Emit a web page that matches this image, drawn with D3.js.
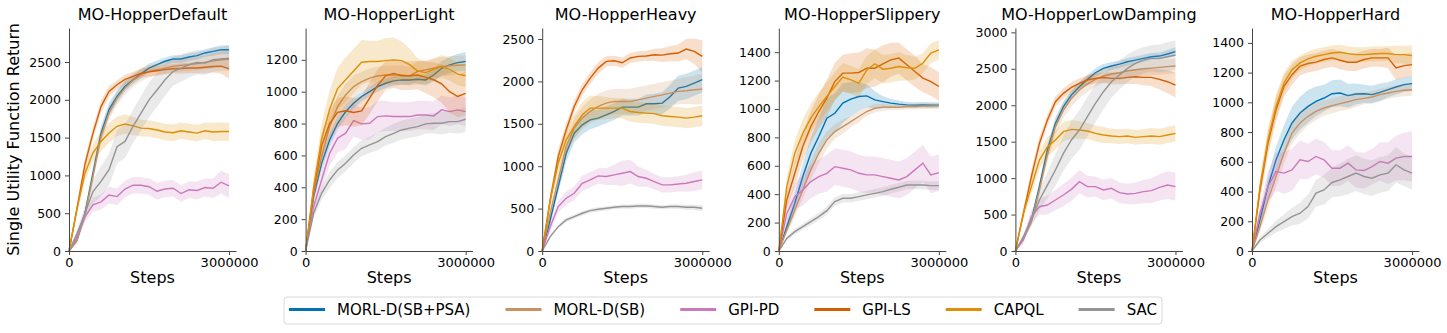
<!DOCTYPE html>
<html>
<head>
<meta charset="utf-8">
<script src="https://d3js.org/d3.v7.min.js"></script>
<style>
    body { margin: 0; background: white; }
    svg text { font-family: "DejaVu Sans", sans-serif; fill: black; }
    .axis path, .axis line { stroke: #444; stroke-width: 1; }
    .axis text { fill: black; }
</style>
</head>
<body>
<svg id="chart" width="1447" height="333"></svg>

<script>
// ---- data ----
const steps = [0,150000,300000,450000,600000,750000,900000,1050000,1200000,1350000,1500000,
               1650000,1800000,1950000,2100000,2250000,2400000,2550000,2700000,2850000,3000000];

const envs = ["MO-HopperDefault","MO-HopperLight","MO-HopperHeavy","MO-HopperSlippery","MO-HopperLowDamping","MO-HopperHard"];
const algos = ["MORL-D(SB+PSA)","MORL-D(SB)","GPI-PD","GPI-LS","CAPQL","SAC"];
const colors = ["#0173b2","#ca9161","#cc78bc","#d55e00","#de8f05","#949494"];

const ticksDefault = [0,500,1000,1500,2000,2500];
const ticksLight = [0,200,400,600,800,1000,1200];
const ticksHeavy = [0,500,1000,1500,2000,2500];
const ticksSlippery = [0,200,400,600,800,1000,1200,1400];
const ticksLowDamping = [0,500,1000,1500,2000,2500,3000];
const ticksHard = [0,200,400,600,800,1000,1200,1400];
const yTops = [2950, 1400, 2630, 1570, 3060, 1500];
const xTicks = [0, 3000000];

// mean curves, one row per algorithm (same order as algos)
const defaultMeans = [
  [0,145,500,1030,1560,1870,2045,2180,2266,2345,2420,2465,2510,2540,2540,2566,2584,2620,2640,2663,2663],
  [0,140,480,990,1510,1825,2023,2155,2260,2332,2376,2400,2420,2443,2455,2465,2480,2495,2515,2530,2540],
  [0,190,455,610,650,740,720,820,870,870,850,790,820,830,760,810,800,840,830,910,860],
  [0,560,1150,1560,1910,2110,2200,2270,2310,2350,2370,2385,2400,2410,2415,2420,2420,2430,2440,2445,2410],
  [0,560,1030,1300,1450,1560,1650,1680,1655,1625,1620,1600,1575,1565,1590,1575,1560,1590,1575,1580,1580],
  [0,230,500,786,920,1075,1380,1450,1650,1825,2000,2130,2265,2375,2420,2465,2495,2487,2530,2540,2550]
];
const defaultSpread = [
  [0,40,60,80,90,90,80,70,60,60,60,55,50,50,50,50,50,50,55,60,60],
  [0,40,60,80,90,90,90,90,90,85,80,80,80,80,80,85,90,90,100,110,120],
  [0,40,70,90,100,110,110,110,110,110,110,110,110,110,110,110,120,120,130,150,160],
  [0,60,80,80,80,70,60,60,60,60,60,60,60,60,70,70,70,80,80,100,130],
  [0,70,100,120,130,130,130,130,120,110,110,110,110,110,110,110,110,110,120,120,120],
  [0,50,100,160,200,210,220,220,220,230,230,220,210,190,180,170,160,160,160,160,170]
];

const lightMeans = [
  [0,341,550,697,802,875,928,970,1000,1032,1053,1068,1074,1074,1078,1074,1105,1147,1168,1183,1190],
  [0,360,592,781,906,980,1032,1063,1085,1099,1105,1105,1105,1099,1127,1137,1147,1158,1162,1166,1168],
  [0,278,446,613,708,740,819,798,802,844,848,844,844,844,854,854,848,886,875,886,875],
  [0,380,660,800,870,880,870,880,960,1040,1100,1115,1100,1100,1105,1090,1075,1050,1000,970,990],
  [0,400,700,890,1020,1075,1130,1185,1190,1190,1195,1200,1195,1170,1130,1120,1140,1160,1140,1110,1100],
  [0,237,362,446,509,551,603,645,666,687,718,739,760,771,781,798,802,802,812,812,827]
];
const lightSpread = [
  [0,30,40,40,40,40,35,30,30,30,30,30,30,30,30,35,40,45,50,55,60],
  [0,40,60,70,70,70,70,60,60,60,60,60,60,60,60,60,60,60,60,60,60],
  [0,50,70,80,90,100,100,100,100,100,95,90,90,90,90,90,90,90,90,90,90],
  [0,50,80,90,90,90,90,90,100,100,90,90,90,90,90,100,110,120,130,130,140],
  [0,60,100,120,130,140,140,140,130,130,140,140,120,100,80,70,70,70,70,70,70],
  [0,30,40,50,50,50,50,50,50,55,55,60,60,60,60,60,65,70,70,75,80]
];

const heavyMeans = [
  [0,366,760,1153,1390,1488,1547,1567,1606,1646,1697,1697,1697,1736,1736,1744,1823,1921,1941,1980,2020],
  [0,445,839,1232,1449,1567,1646,1705,1744,1764,1764,1764,1783,1803,1823,1842,1862,1882,1890,1901,1909],
  [0,287,524,622,681,799,839,886,878,898,917,937,878,858,819,780,780,791,799,819,839],
  [0,602,1114,1429,1705,1901,2039,2157,2236,2244,2220,2276,2295,2300,2315,2310,2327,2335,2382,2354,2295],
  [0,600,1035,1311,1468,1606,1685,1685,1685,1685,1685,1645,1634,1626,1620,1595,1587,1579,1567,1579,1595],
  [0,169,287,366,405,445,476,492,504,516,524,524,531,531,524,516,524,524,516,516,504]
];
const heavySpread = [
  [0,50,80,100,110,110,110,100,100,100,100,100,100,110,120,130,140,150,150,150,150],
  [0,60,90,110,120,130,140,150,150,150,150,150,150,150,150,150,150,150,160,170,180],
  [0,50,70,80,80,90,90,90,100,120,150,140,120,100,90,90,90,90,100,110,110],
  [0,60,80,80,70,70,70,70,60,60,60,60,60,60,70,80,90,100,120,150,190],
  [0,80,110,130,140,150,150,140,130,120,120,120,120,120,120,120,120,120,120,120,120],
  [0,15,20,25,25,25,25,25,25,25,25,25,25,25,25,25,25,25,30,30,35]
];

const slipperyMeans = [
  [0,171,336,524,688,806,935,970,1041,1069,1088,1092,1064,1052,1041,1034,1029,1027,1029,1027,1027],
  [0,148,289,430,571,688,782,841,876,911,947,982,1005,1012,1012,1012,1017,1017,1020,1020,1022],
  [0,265,383,430,489,524,547,594,583,571,547,536,536,524,512,500,524,571,618,536,552],
  [0,359,547,735,876,982,1076,1193,1252,1252,1257,1287,1287,1318,1346,1358,1311,1264,1217,1193,1158],
  [0,453,688,829,935,1017,1088,1158,1224,1205,1182,1275,1318,1280,1287,1299,1290,1287,1322,1393,1416],
  [0,89,136,171,207,242,284,348,371,371,383,395,406,418,435,449,465,465,465,460,460]
];
const slipperySpread = [
  [0,40,70,90,110,130,140,140,140,120,100,80,60,40,30,25,20,20,20,20,20],
  [0,30,50,60,70,70,60,50,50,40,40,30,30,25,20,20,20,20,20,20,20],
  [0,60,90,110,120,120,130,130,130,130,130,130,130,130,130,130,130,130,130,130,130],
  [0,60,90,100,110,120,130,130,130,140,140,140,130,130,120,110,110,110,100,100,100],
  [0,70,90,100,100,100,100,100,100,100,100,100,100,100,100,100,90,80,70,70,70],
  [0,15,20,20,25,25,30,30,30,30,30,30,30,30,30,30,30,30,30,30,30]
];

const lowDampingMeans = [
  [0,174,425,883,1386,1751,1980,2140,2254,2355,2446,2506,2538,2565,2597,2620,2643,2666,2675,2703,2735],
  [0,174,402,837,1317,1706,1934,2094,2209,2291,2355,2401,2428,2446,2474,2487,2501,2510,2520,2530,2538],
  [0,151,471,608,631,700,768,846,951,883,883,837,860,800,782,791,814,828,873,905,883],
  [0,517,1020,1477,1797,2049,2163,2245,2300,2346,2369,2380,2369,2369,2383,2392,2383,2383,2355,2323,2277],
  [0,517,883,1248,1431,1523,1637,1669,1660,1646,1614,1591,1578,1569,1578,1559,1569,1578,1569,1591,1614],
  [0,197,425,700,905,1111,1340,1523,1660,1843,2026,2186,2323,2415,2506,2575,2620,2643,2643,2666,2689]
];
const lowDampingSpread = [
  [0,30,50,70,80,80,70,60,60,60,60,60,55,50,50,50,50,50,50,55,60],
  [0,30,50,80,100,110,110,110,110,110,100,100,100,100,100,100,100,100,100,100,100],
  [0,50,90,110,130,140,150,160,160,150,140,140,140,140,140,150,160,170,180,190,190],
  [0,70,90,90,80,70,70,70,70,70,70,70,80,80,90,100,110,120,140,160,170],
  [0,70,100,120,130,130,130,130,120,110,110,110,100,100,100,100,100,110,110,110,110],
  [0,40,90,140,180,220,240,260,270,270,260,240,220,200,190,180,180,180,190,200,200]
];

const hardMeans = [
  [0,209,434,613,748,861,928,973,1007,1029,1058,1063,1045,1056,1058,1052,1067,1085,1103,1119,1126],
  [0,164,344,501,658,793,861,906,939,962,977,991,1004,1018,1027,1036,1052,1063,1074,1081,1085],
  [0,254,434,535,524,546,613,602,636,613,557,557,591,546,541,568,602,591,625,636,636],
  [0,411,726,950,1108,1186,1243,1261,1270,1288,1299,1283,1270,1270,1288,1299,1299,1299,1231,1247,1254],
  [0,434,748,973,1130,1220,1265,1292,1310,1321,1332,1337,1328,1321,1321,1325,1328,1328,1321,1321,1314],
  [0,74,119,164,198,231,254,299,389,411,461,479,501,524,501,490,512,524,580,546,524]
];
const hardSpread = [
  [0,40,70,90,100,110,110,110,100,90,90,90,80,70,60,60,60,50,50,50,50],
  [0,40,60,70,70,70,70,60,60,50,50,50,50,50,40,40,40,40,40,40,40],
  [0,60,100,130,140,140,130,120,120,120,120,120,120,120,120,120,130,140,150,160,170],
  [0,60,80,80,70,70,60,60,60,60,60,60,60,60,60,60,60,70,80,80,80],
  [0,60,80,80,70,60,50,50,50,50,50,50,50,50,50,50,50,50,60,60,70],
  [0,20,30,40,50,60,70,80,90,100,100,110,120,120,120,120,120,120,120,110,110]
];

const allMeans = [defaultMeans, lightMeans, heavyMeans, slipperyMeans, lowDampingMeans, hardMeans];
const allSpread = [defaultSpread, lightSpread, heavySpread, slipperySpread, lowDampingSpread, hardSpread];
const allTicks = [ticksDefault, ticksLight, ticksHeavy, ticksSlippery, ticksLowDamping, ticksHard];

// ---- layout ----
const svg = d3.select("#chart");
const firstLeft = 69, panelStep = 236.6;
const axTop = 28, axBottom = 251, axWidth = 167;
const xMax = 3130000;

envs.forEach((env, p) => {
    const left = firstLeft + p * panelStep;
    const x = d3.scaleLinear().domain([0, xMax]).range([left, left + axWidth]);
    const y = d3.scaleLinear().domain([0, yTops[p]]).range([axBottom, axTop]);

    const g = svg.append("g");

    algos.forEach((a, k) => {
        const mean = allMeans[p][k];
        const sd = allSpread[p][k];
        const area = d3.area()
            .x((d, i) => x(steps[i]))
            .y0((d, i) => y(Math.max(0, mean[i] - sd[i])))
            .y1((d, i) => y(mean[i] + sd[i]));
        const line = d3.line()
            .x((d, i) => x(steps[i]))
            .y(d => y(d));
        g.append("path").datum(mean)
            .attr("d", area)
            .attr("fill", colors[k])
            .attr("fill-opacity", 0.2)
            .attr("stroke", "none");
        g.append("path").datum(mean)
            .attr("d", line)
            .attr("fill", "none")
            .attr("stroke", colors[k])
            .attr("stroke-width", 1.4);
    });

    // axes (left + bottom spines only)
    const yAxis = d3.axisLeft(y).tickValues(allTicks[p]).tickFormat(d3.format("d"))
        .tickSize(4).tickSizeOuter(0).tickPadding(4);
    svg.append("g").attr("class", "axis")
        .attr("transform", `translate(${left},0)`)
        .call(yAxis)
        .selectAll("text").style("font-size", "12.5px");

    const xAxis = d3.axisBottom(x).tickValues(xTicks).tickFormat(d3.format("d"))
        .tickSize(4).tickSizeOuter(0).tickPadding(3);
    svg.append("g").attr("class", "axis")
        .attr("transform", `translate(0,${axBottom})`)
        .call(xAxis)
        .selectAll("text").style("font-size", "13px");

    svg.append("text")
        .attr("x", left + axWidth / 2)
        .attr("y", 20)
        .attr("text-anchor", "middle")
        .style("font-size", "16px")
        .text(env);

    svg.append("text")
        .attr("x", left + axWidth / 2)
        .attr("y", 283)
        .attr("text-anchor", "middle")
        .style("font-size", "16px")
        .text("Steps");
});

svg.append("text")
    .attr("transform", `translate(19,${(axTop + axBottom) / 2}) rotate(-90)`)
    .attr("text-anchor", "middle")
    .style("font-size", "16px")
    .text("Single Utility Function Return");

// ---- legend ----
const legend = svg.append("g");
const box = legend.append("rect")
    .attr("rx", 3).attr("ry", 3)
    .attr("fill", "white")
    .attr("stroke", "#d9d9d9")
    .attr("stroke-width", 1);

let cursor = 0;
const handleLen = 36, textPad = 12, colGap = 35;
algos.forEach((a, k) => {
    legend.append("line")
        .attr("x1", cursor).attr("x2", cursor + handleLen)
        .attr("y1", 0).attr("y2", 0)
        .attr("stroke", colors[k]).attr("stroke-width", 3);
    const t = legend.append("text")
        .attr("x", cursor + handleLen + textPad)
        .attr("y", 5.5)
        .style("font-size", "15px")
        .text(a);
    cursor += handleLen + textPad + t.node().getComputedTextLength() + colGap;
});
const legendWidth = cursor - colGap;
const padX = 5;
box.attr("x", -padX).attr("y", -12.5).attr("width", legendWidth + 2 * padX).attr("height", 27);
legend.attr("transform", `translate(${723 - legendWidth / 2},309.5)`);
</script>
</body>
</html>
